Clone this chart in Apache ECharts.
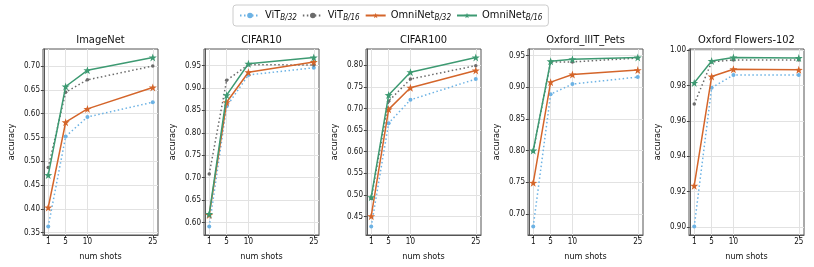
<!DOCTYPE html>
<html><head><meta charset="utf-8">
<script src="https://cdn.jsdelivr.net/npm/echarts@6/dist/echarts.min.js"></script>
<style>html,body{margin:0;padding:0;background:#fff}#c{width:814px;height:267px}</style>
</head><body><div id="c"></div>
<script>
// ---- data ----
const shots = [1, 5, 10, 25];
const datasets = ['ImageNet', 'CIFAR10', 'CIFAR100', 'Oxford_IIIT_Pets', 'Oxford Flowers-102'];
const seriesNames = ['ViT B/32', 'ViT B/16', 'OmniNet B/32', 'OmniNet B/16'];
// one row per dataset, values at shots 1, 5, 10, 25
const vitB32 = [
  [0.363, 0.552, 0.593, 0.624],
  [0.591, 0.859, 0.929, 0.945],
  [0.427, 0.666, 0.720, 0.768],
  [0.680, 0.889, 0.905, 0.916],
  [0.9003, 0.9788, 0.9861, 0.9861]
];
const vitB16 = [
  [0.487, 0.645, 0.671, 0.700],
  [0.708, 0.917, 0.952, 0.951],
  [0.492, 0.717, 0.768, 0.799],
  [0.799, 0.940, 0.940, 0.946],
  [0.9696, 0.9935, 0.9946, 0.9946]
];
const omniB32 = [
  [0.403, 0.582, 0.610, 0.655],
  [0.617, 0.868, 0.935, 0.958],
  [0.451, 0.698, 0.748, 0.788],
  [0.749, 0.908, 0.920, 0.927],
  [0.9234, 0.9852, 0.9893, 0.9890]
];
const omniB16 = [
  [0.471, 0.657, 0.691, 0.718],
  [0.619, 0.884, 0.954, 0.968],
  [0.495, 0.731, 0.784, 0.818],
  [0.800, 0.941, 0.944, 0.947],
  [0.9816, 0.9940, 0.9960, 0.9957]
];
const yTicks = [
  [0.35, 0.40, 0.45, 0.50, 0.55, 0.60, 0.65, 0.70],
  [0.60, 0.65, 0.70, 0.75, 0.80, 0.85, 0.90, 0.95],
  [0.45, 0.50, 0.55, 0.60, 0.65, 0.70, 0.75, 0.80],
  [0.70, 0.75, 0.80, 0.85, 0.90, 0.95],
  [0.90, 0.92, 0.94, 0.96, 0.98, 1.00]
];
const xTicks = [1, 5, 10, 25];

// ---- layout / style ----
const FONT = "'DejaVu Sans Condensed','DejaVu Sans',sans-serif";
const gridLefts = [43, 204, 366, 528, 689];
const gridW = 115, gridTop = 49, gridH = 186;
const colors = ['#6cb2e4', '#6b6b6b', '#d4652a', '#3d9a72'];
const STAR = 'path://M50,0 L61.8,35.1 L98.9,35.5 L69.1,57.6 L80.2,93 L50,71.5 L19.8,93 L30.9,57.6 L1.1,35.5 L38.2,35.1 Z';
const allSeries = [vitB32, vitB16, omniB32, omniB16];

const grids = [], xAxes = [], yAxes = [], titles = [], series = [];
datasets.forEach((name, i) => {
  grids.push({ left: gridLefts[i], top: gridTop, width: gridW, height: gridH, show: true,
    borderColor: '#555', borderWidth: 1, backgroundColor: 'transparent' });
  titles.push({ text: name, left: gridLefts[i] + gridW / 2, top: 35, textAlign: 'center', padding: 0,
    textStyle: { fontFamily: FONT, fontSize: 11, fontWeight: 'normal', color: '#111' } });
  let lo = Infinity, hi = -Infinity;
  allSeries.forEach(s => s[i].forEach(v => { lo = Math.min(lo, v); hi = Math.max(hi, v); }));
  const pad = (hi - lo) * 0.05;
  xAxes.push({ type: 'value', gridIndex: i, min: -0.2, max: 26.2,
    name: 'num shots', nameLocation: 'middle', nameGap: 17,
    nameTextStyle: { fontFamily: FONT, fontSize: 9, color: '#111' },
    axisLine: { show: true, lineStyle: { color: '#555' } },
    axisTick: { show: true, length: 3, customValues: xTicks, lineStyle: { color: '#444' } },
    axisLabel: { customValues: xTicks, fontFamily: FONT, fontSize: 8, color: '#111', margin: 3 },
    splitLine: { show: true, lineStyle: { color: '#e2e2e2', width: 1 } } });
  yAxes.push({ type: 'value', gridIndex: i, min: lo - pad, max: hi + pad,
    name: 'accuracy', nameLocation: 'middle', nameGap: 27,
    nameTextStyle: { fontFamily: FONT, fontSize: 9, color: '#111' },
    axisLine: { show: true, lineStyle: { color: '#555' } },
    axisTick: { show: true, length: 3, customValues: yTicks[i], lineStyle: { color: '#444' } },
    axisLabel: { customValues: yTicks[i], fontFamily: FONT, fontSize: 8, color: '#111', margin: 3,
      formatter: v => v.toFixed(2) },
    splitLine: { show: true, lineStyle: { color: '#e2e2e2', width: 1 } } });
  const defs = [
    { data: vitB32[i], type: [1.5, 2.5], symbol: 'circle', size: 4 },
    { data: vitB16[i], type: [1.5, 2.5], symbol: 'circle', size: 3.5 },
    { data: omniB32[i], type: 'solid', symbol: STAR, size: 8 },
    { data: omniB16[i], type: 'solid', symbol: STAR, size: 8 }
  ];
  defs.forEach((d, k) => {
    series.push({ name: seriesNames[k], type: 'line', xAxisIndex: i, yAxisIndex: i,
      data: shots.map((x, j) => [x, d.data[j]]),
      symbol: d.symbol, symbolSize: d.size, showSymbol: true,
      lineStyle: { color: colors[k], width: 1.5, type: d.type },
      itemStyle: { color: colors[k], borderWidth: 0 },
      animation: false, z: 2 + k });
  });
});

const labelMap = {
  'ViT B/32': 'ViT{s|B/32}', 'ViT B/16': 'ViT{s|B/16}',
  'OmniNet B/32': 'OmniNet{s|B/32}', 'OmniNet B/16': 'OmniNet{s|B/16}'
};
const chart = echarts.init(document.getElementById('c'), null, { renderer: 'canvas' });
chart.setOption({
  animation: false,
  title: titles,
  legend: { data: seriesNames, left: 233, top: 5, itemWidth: 20, itemHeight: 7, itemGap: 5,
    padding: [5, 6, 4, 6], borderColor: '#ccc', borderWidth: 1, borderRadius: 3,
    formatter: n => labelMap[n],
    textStyle: { fontFamily: FONT, fontSize: 11, color: '#111',
      rich: { s: { fontFamily: FONT, fontSize: 8, fontStyle: 'italic', verticalAlign: 'bottom', padding: [5, 0, 0, 0] } } } },
  grid: grids, xAxis: xAxes, yAxis: yAxes, series: series
});
</script></body></html>
